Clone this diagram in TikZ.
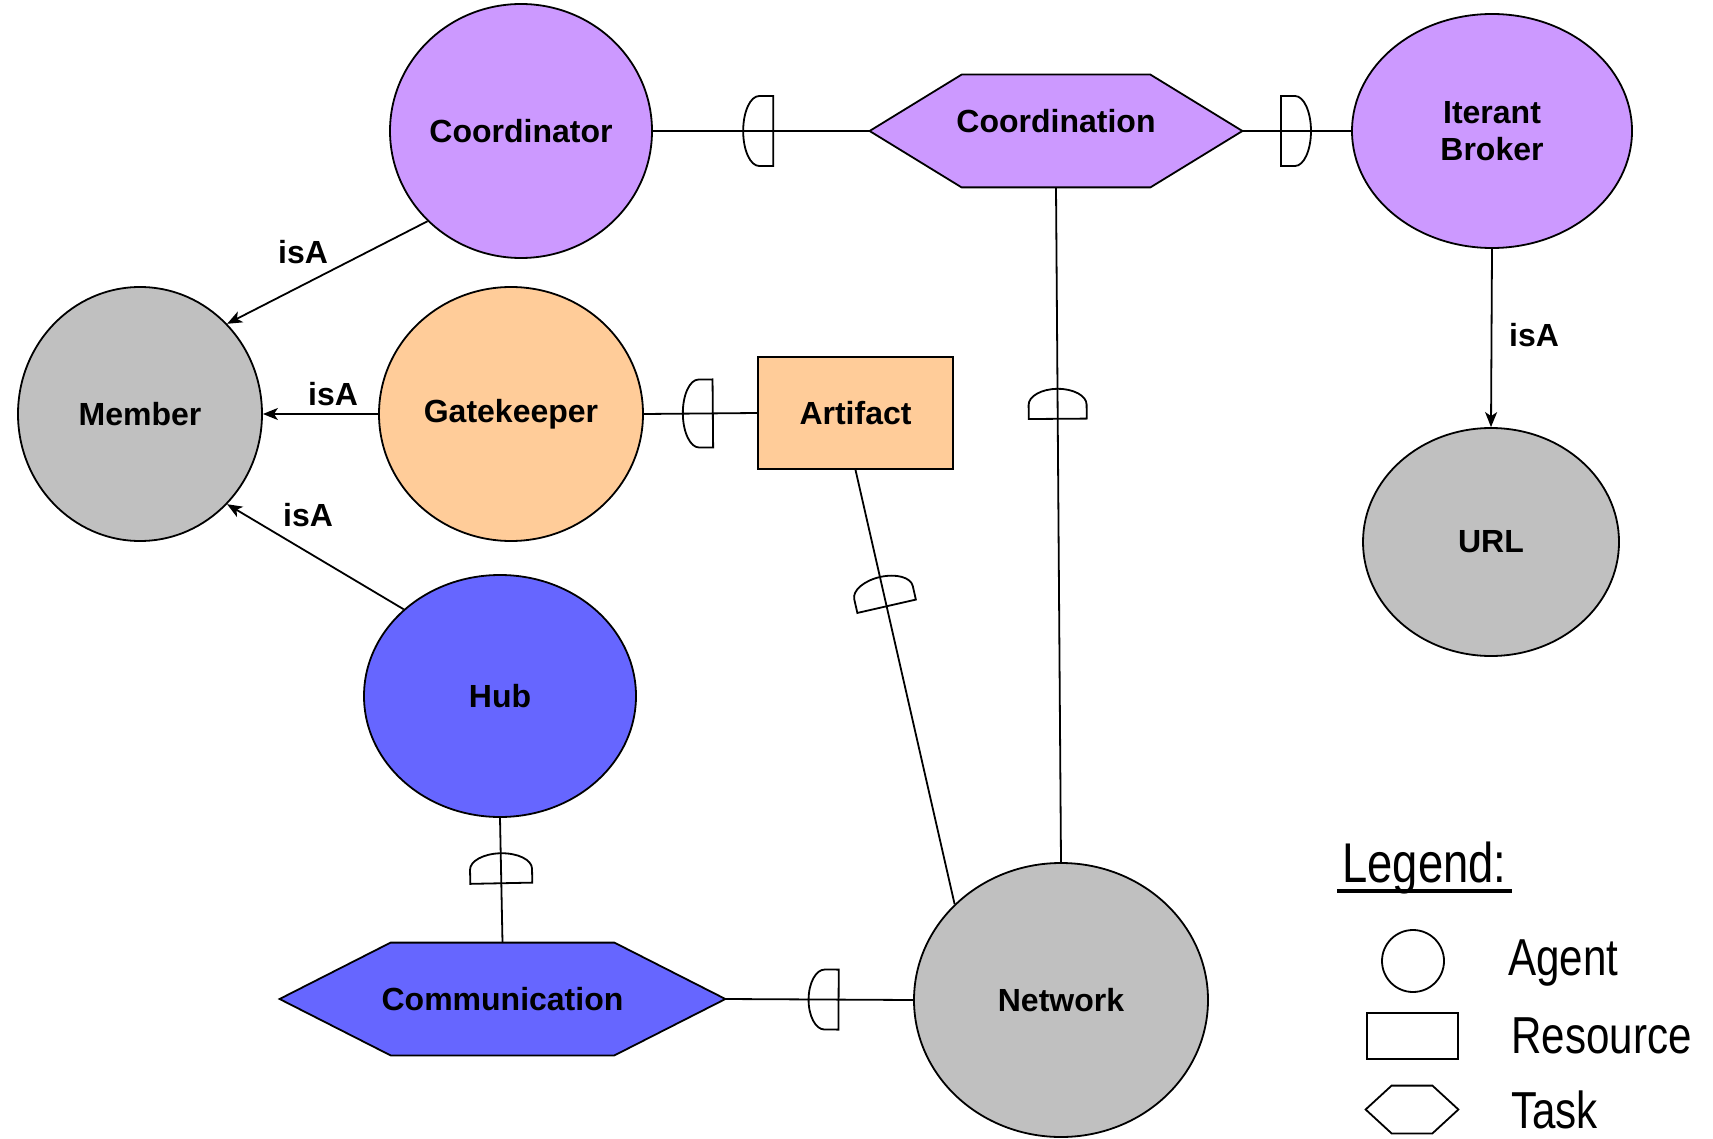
\documentclass[tikz,border=0pt]{standalone}
\usepackage{fontspec}
\setmainfont{Liberation Sans}
\newfontfamily\legendfont[FakeStretch=0.81]{Liberation Sans}
\usetikzlibrary{shapes.geometric,arrows.meta,decorations.markings,backgrounds}
\definecolor{agentpurple}{HTML}{CC99FF}
\definecolor{agentgray}{HTML}{C0C0C0}
\definecolor{agentpeach}{HTML}{FFCC99}
\definecolor{agentblue}{HTML}{6666FF}
\newcommand\diagfont{\bfseries\fontsize{16}{18.5}\selectfont}
\newcommand\taskhex[3]{\draw[line width=0.9pt, fill=#3] (#1.west) -- ([xshift=#2]#1.north west) -- ([xshift=-#2]#1.north east) -- (#1.east) -- ([xshift=-#2]#1.south east) -- ([xshift=#2]#1.south west) -- cycle;}
\tikzset{
  agent/.style={ellipse, draw, line width=0.9pt, inner sep=0pt, font=\diagfont, align=center},
  resource/.style={rectangle, draw, line width=0.9pt, inner sep=0pt, font=\diagfont},
  taskbox/.style={rectangle, inner sep=0pt, font=\diagfont},
  isa/.style={line width=0.9pt, -{Stealth[length=7.5pt,width=6pt,inset=2pt]}},
  isalabel/.style={font=\diagfont, inner sep=0pt},
  deplink/.style 2 args={line width=0.9pt, postaction={decorate, decoration={markings, mark=at position #1 with {\draw[line width=0.9pt] (0pt,#2) -- (-7pt,#2) arc[start angle=90,end angle=270,x radius=8pt,y radius=#2] -- (0pt,-#2) -- cycle;}}}},
  legendtext/.style={font=\legendfont\fontsize{26}{30}\selectfont, inner sep=0pt, anchor=base west},
}
\begin{document}
\begin{tikzpicture}[x=0.5pt,y=-0.5pt]
\useasboundingbox (0,0) rectangle (1713,1139);
% agents
\node[agent, fill=agentpurple, minimum width=131pt, minimum height=127pt] (coordinator) at (521,131) {Coordinator};
\node[agent, fill=agentpurple, minimum width=140pt, minimum height=117pt] (broker) at (1492,131) {Iterant\\Broker};
\node[agent, fill=agentgray, minimum width=122pt, minimum height=127pt] (member) at (140,414) {Member};
\node[agent, fill=agentpeach, minimum width=132pt, minimum height=127pt] (gatekeeper) at (511,414) {Gatekeeper};
\node[agent, fill=agentgray, minimum width=128pt, minimum height=114pt] (url) at (1491,542) {URL};
\node[agent, fill=agentblue, minimum width=136pt, minimum height=121pt] (hub) at (500,696) {Hub};
\node[agent, fill=agentgray, minimum width=147pt, minimum height=137pt] (network) at (1061,1000) {Network};
% resource
\node[resource, fill=agentpeach, minimum width=97.5pt, minimum height=56pt] (artifact) at (855.5,413) {Artifact};
% tasks
\node[taskbox, minimum width=186pt, minimum height=56pt] (coordination) at (1056,131) {\raisebox{5.2pt}[\height][\depth]{Coordination}};
\node[taskbox, minimum width=222.5pt, minimum height=56pt] (communication) at (502.5,999) {Communication};
% legend
\node[font=\legendfont\fontsize{28}{32}\selectfont, inner sep=0pt, anchor=base west] (legtitle) at (1342,882) {Legend:};
\draw[line width=1.8pt] ([xshift=-2.5pt,yshift=-4.5pt]legtitle.base west) -- ([xshift=2.5pt,yshift=-4.5pt]legtitle.base east);
\node[circle, draw, line width=0.9pt, inner sep=0pt, minimum size=31pt] (legagent) at (1413,961) {};
\node[rectangle, draw, line width=0.9pt, inner sep=0pt, minimum width=45.5pt, minimum height=23pt] (legres) at (1412.5,1036) {};
\node[taskbox, minimum width=46pt, minimum height=23.5pt] (legtask) at (1412,1109.5) {};
\node[legendtext] (legagenttext) at (1508,975) {Agent};
\node[legendtext] (legrestext) at (1511,1053) {Resource};
\node[legendtext] (legtasktext) at (1511,1128) {Task};
\begin{scope}[on background layer]
\taskhex{coordination}{46pt}{agentpurple}
\taskhex{communication}{55.5pt}{agentblue}
\taskhex{legtask}{13pt}{white}
\end{scope}
% isA links
\draw[isa] (coordinator.224) -- (member.46);
\draw[isa] (gatekeeper.west) -- (member.east);
\draw[isa] (hub.138) -- (member.314);
\draw[isa] (broker.south) -- (url.north);
\node[isalabel] (isa1) at (303,252) {isA};
\node[isalabel] (isa2) at (333,394) {isA};
\node[isalabel] (isa3) at (308,515) {isA};
\node[isalabel] (isa4) at (1534,335) {isA};
% dependency links
\draw[deplink={0.555}{17.5pt}] (coordinator.east) -- (coordination.west);
\draw[deplink={0.645}{17.5pt}] (broker.west) -- (coordination.east);
\draw[deplink={0.343}{14.5pt}] (coordination.south) -- (network.north);
\draw[deplink={0.314}{15pt}] (artifact.south) -- (network.138);
\draw[deplink={0.524}{15.5pt}] (hub.south) -- (communication.north);
\draw[deplink={0.603}{15pt}] (communication.east) -- (network.west);
\draw[deplink={0.609}{17pt}] (gatekeeper.east) -- (artifact.west);
\end{tikzpicture}
\end{document}
